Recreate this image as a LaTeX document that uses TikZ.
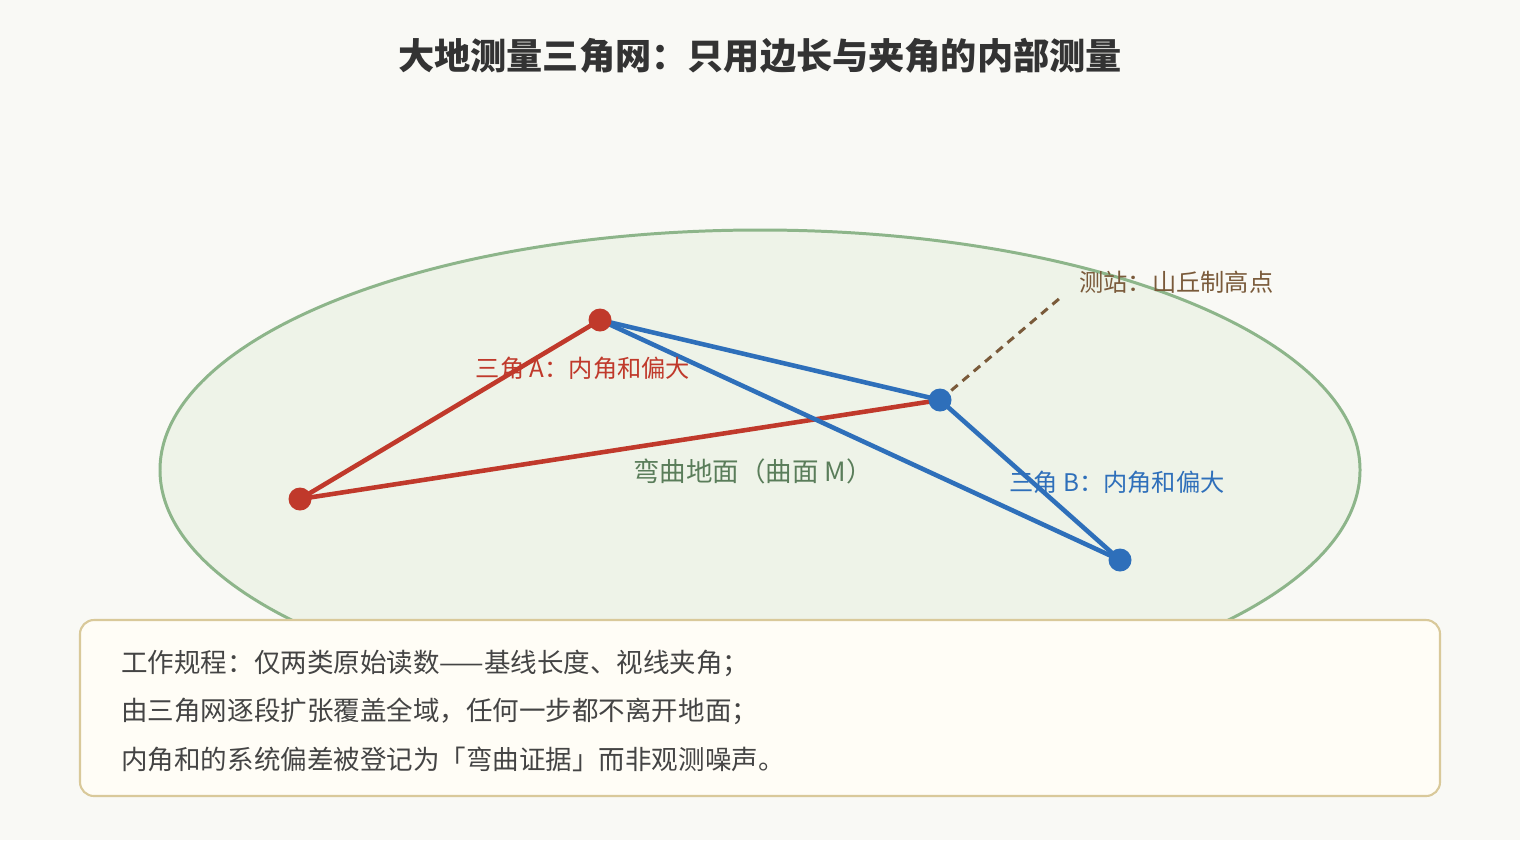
\documentclass[tikz,border=0pt]{standalone}
\usepackage{fontspec}
\setmainfont{Noto Sans CJK SC}
\usetikzlibrary{positioning}
\definecolor{bgcol}{HTML}{F9F9F5}
\definecolor{landfill}{HTML}{EEF3E8}
\definecolor{landline}{HTML}{8DB58A}
\definecolor{landtext}{HTML}{5A7D5A}
\definecolor{trired}{HTML}{C0392B}
\definecolor{triblue}{HTML}{2E6FBA}
\definecolor{sitebrown}{HTML}{7A5A3A}
\definecolor{notefill}{HTML}{FFFDF6}
\definecolor{noteline}{HTML}{D9C99A}
\definecolor{inktext}{HTML}{444444}
\tikzset{
  redline/.style={draw=trired, line width=2.6pt},
  blueline/.style={draw=triblue, line width=2.6pt},
  reddot/.style={circle, fill=trired, inner sep=0pt, minimum size=0.46cm},
  bluedot/.style={circle, fill=triblue, inner sep=0pt, minimum size=0.46cm},
  sightline/.style={draw=sitebrown, line width=1.7pt, dash pattern=on 4.8pt off 3.6pt},
  labeltext/.style={inner sep=0pt, font=\fontsize{13.8pt}{16pt}\selectfont},
  notetext/.style={inner sep=0pt, anchor=west, text=inktext, font=\fontsize{15.1pt}{18pt}\selectfont}
}
\begin{document}
\begin{tikzpicture}[x=0.02cm,y=-0.02cm]
\fill [color=bgcol] (0,0) rectangle (1520,840);
\useasboundingbox (0,0) rectangle (1520,840);
\node [font=\fontsize{20.6pt}{24pt}\selectfont\bfseries, text=black!80] (title) at (760,56) {大地测量三角网：只用边长与夹角的内部测量};
\filldraw [fill=landfill, draw=landline, line width=1.7pt] (760,470) ellipse [x radius=600, y radius=240];
\node [labeltext, text=landtext, font=\fontsize{15.1pt}{18pt}\selectfont] (land) at (753,471) {弯曲地面（曲面 M）};
\coordinate (p1) at (300,499);
\coordinate (p2) at (600,320);
\coordinate (p3) at (940,400);
\coordinate (p4) at (1120,560);
\coordinate (sight) at (1060,298);
\draw [redline] (p1)--(p2);
\draw [redline] (p1)--(p3);
\draw [blueline] (p2)--(p3);
\draw [blueline] (p2)--(p4);
\draw [blueline] (p3)--(p4);
\draw [sightline] (p3)--(sight);
\node [reddot] (d1) at (p1) {};
\node [reddot] (d2) at (p2) {};
\node [bluedot] (d3) at (p3) {};
\node [bluedot] (d4) at (p4) {};
\node [labeltext, text=trired] (labA) at (583,368) {三角 A：内角和偏大};
\node [labeltext, text=triblue] (labB) at (1117,482) {三角 B：内角和偏大};
\node [labeltext, text=sitebrown, anchor=west] (site) at (1079,282) {测站：山丘制高点};
\filldraw [fill=notefill, draw=noteline, line width=1.2pt, rounded corners=0.28cm] (80,620) rectangle (1440,796);
\node [notetext] (line1) at (121,663) {工作规程：仅两类原始读数——基线长度、视线夹角；};
\node [notetext] (line2) at (121,711) {由三角网逐段扩张覆盖全域，任何一步都不离开地面；};
\node [notetext] (line3) at (121,759) {内角和的系统偏差被登记为「弯曲证据」而非观测噪声。};
\end{tikzpicture}
\end{document}
